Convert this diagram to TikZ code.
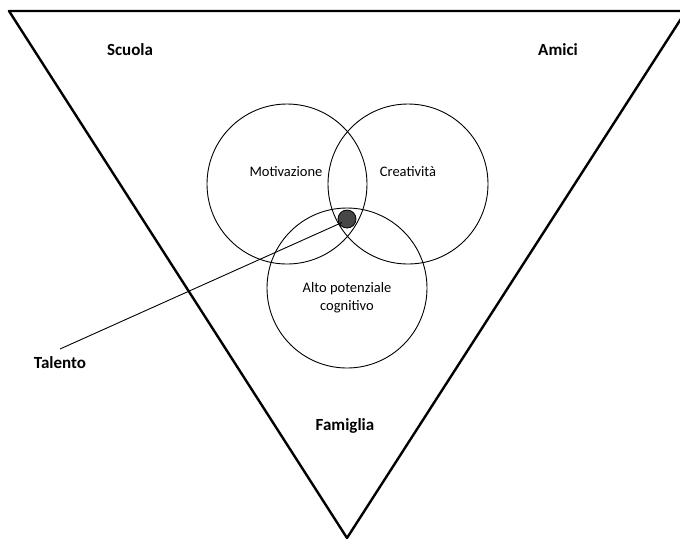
\documentclass[tikz,border=0pt]{standalone}
\usepackage{fontspec}
\setmainfont{Carlito}
\begin{document}
\begin{tikzpicture}[x=1pt,y=-1pt,
  bold label/.style={font=\fontsize{17}{19}\selectfont\bfseries, inner sep=0pt},
  circ label/.style={font=\fontsize{14.5}{18}\selectfont, inner sep=0pt, align=center},
  ring/.style={draw, line width=0.9pt, circle, minimum size=160pt, inner sep=0pt},
  frame/.style={draw, line width=2.4pt, line join=round}]
\useasboundingbox (0,0) rectangle (680,542);
\coordinate (tl) at (9,11);
\coordinate (tr) at (686,11);
\coordinate (ap) at (347,538);
\draw[frame] (tl) -- (tr) -- (ap) -- cycle;
\node[ring] (mot) at (287,184) {};
\node[ring] (cre) at (408,184) {};
\node[ring] (alt) at (347,288) {};
\node[circ label] (motl) at (286,172) {Motivazione};
\node[circ label] (crel) at (408,172) {Creatività};
\node[circ label] (altl) at (347,298) {Alto potenziale\\cognitivo};
\node[bold label] (scuola) at (130,50) {Scuola};
\node[bold label] (amici) at (558,50) {Amici};
\node[bold label] (famiglia) at (345,426) {Famiglia};
\node[bold label] (talento) at (60,363) {Talento};
\coordinate (tend) at (60,349);
\node[circle, draw, line width=0.8pt, fill=black!72, minimum size=18pt, inner sep=0pt] (dot) at (347,219) {};
\draw[line width=0.9pt] (dot.center) ++(-5,3.5) coordinate (ds) (ds) -- (tend);
\end{tikzpicture}
\end{document}
